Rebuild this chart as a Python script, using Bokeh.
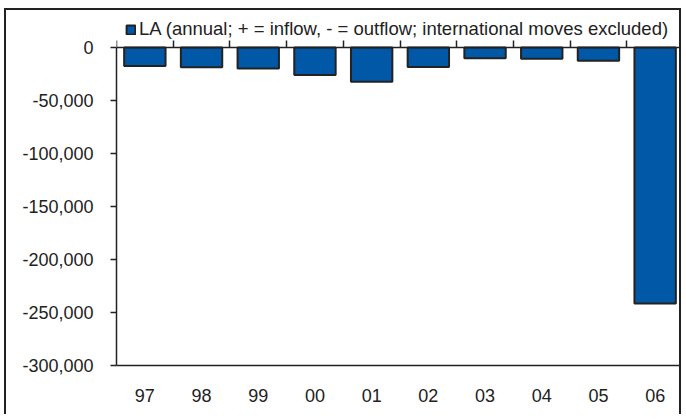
from bokeh.plotting import figure
from bokeh.models import (Range1d, LinearAxis, FixedTicker,
                          Legend, LegendItem, ColumnDataSource)
from bokeh.embed import file_html
from bokeh.resources import INLINE

years = ["97", "98", "99", "00", "01", "02", "03", "04", "05", "06"]
la_net = [-17500, -18700, -19700, -26000, -32300, -18400, -10200, -10600, -12500, -241400]
y_ticks = [0, -50000, -100000, -150000, -200000, -250000, -300000]
legend_label = "LA (annual; + = inflow, - = outflow; international moves excluded)"

FONT = "Liberation Sans"
DARK = "#222222"
FS = "18px"

Y_MIN = -300000
PLOT_PX = 318          # pixel height of the 0 .. -300,000 span
HEAD_PX = 37           # pixels above the zero line (legend area)
y_top = -Y_MIN * HEAD_PX / PLOT_PX

n = len(years)
xpos = [i + 0.5 for i in range(n)]
src = ColumnDataSource(dict(x=xpos, year=years, val=la_net))

p = figure(x_range=Range1d(0, n), y_range=Range1d(Y_MIN, y_top),
           width=677, height=406, output_backend="svg", toolbar_location=None,
           min_border_left=110, min_border_right=0, min_border_top=0,
           min_border_bottom=51, x_axis_location=None, y_axis_location=None)
p.margin = (8, 0, 0, 4)
p.styles = {"border-left": "2px solid #222", "border-top": "2px solid #222",
            "border-right": "2px solid #222"}

r = p.vbar(x="x", top="val", bottom=0, width=0.73, source=src,
           fill_color="#0058a6", line_color=DARK, line_width=2)

p.xgrid.visible = False
p.ygrid.visible = False
p.outline_line_color = None
p.background_fill_color = "white"
p.border_fill_color = "white"

# bottom category labels (its axis line is the bottom edge of the plot box)
xa = LinearAxis(ticker=FixedTicker(ticks=xpos),
                major_label_overrides={xv: y for xv, y in zip(xpos, years)})
xa.axis_line_color = DARK
xa.axis_line_width = 1.5
xa.major_tick_line_color = None
xa.major_tick_out = 0
xa.major_tick_in = 0
xa.minor_tick_line_color = None
xa.major_label_standoff = 23
xa.major_label_text_font = FONT
xa.major_label_text_font_size = FS
xa.major_label_text_color = DARK
p.add_layout(xa, "below")

# y axis
ya = LinearAxis(ticker=FixedTicker(ticks=y_ticks),
                major_label_overrides={t: f"{t:,}" for t in y_ticks},
                bounds=(Y_MIN, 0))
ya.axis_line_color = DARK
ya.axis_line_width = 1.5
ya.major_tick_line_color = DARK
ya.major_tick_line_width = 1.5
ya.major_tick_out = 6
ya.major_tick_in = 0
ya.minor_tick_line_color = None
ya.major_label_standoff = 17
ya.major_label_text_font = FONT
ya.major_label_text_font_size = FS
ya.major_label_text_color = DARK
p.add_layout(ya, "left")

# zero line with category boundary ticks pointing up
zero_ax = LinearAxis(ticker=FixedTicker(ticks=list(range(n + 1))), fixed_location=0)
zero_ax.axis_line_color = DARK
zero_ax.axis_line_width = 1.5
zero_ax.major_tick_line_color = DARK
zero_ax.major_tick_line_width = 1.5
zero_ax.major_tick_out = 0
zero_ax.major_tick_in = 7
zero_ax.minor_tick_line_color = None
zero_ax.major_label_text_font_size = "1px"
zero_ax.major_label_text_color = None
zero_ax.major_label_standoff = 0
p.add_layout(zero_ax, "below")

legend = Legend(items=[LegendItem(label=legend_label, renderers=[r])],
                location=(9, 325), padding=0, margin=0, spacing=0,
                glyph_width=11, glyph_height=11, label_standoff=3,
                label_text_font=FONT, label_text_font_size="18.5px",
                label_text_color=DARK, border_line_color=None,
                background_fill_alpha=0)
p.add_layout(legend, "center")

open("out.html", "w").write(file_html(p, INLINE))
